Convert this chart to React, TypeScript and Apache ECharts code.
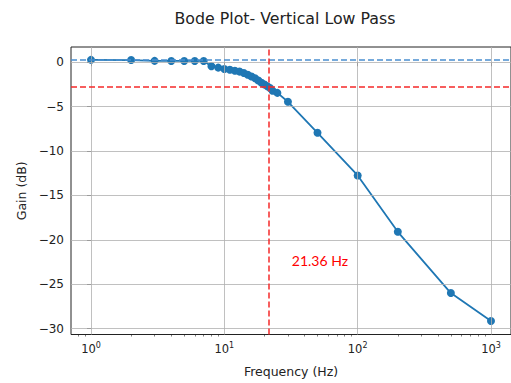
import React, { useEffect, useRef } from "react";
import * as echarts from "echarts";

const freqs = [1, 2, 3, 4, 5, 6, 7, 8, 9, 10, 11, 12, 13, 14, 15, 16, 17, 18, 19, 20, 21, 22, 23, 25, 30, 50, 100, 200, 500, 1000];
const gains = [0.27, 0.25, 0.16, 0.15, 0.15, 0.15, 0.15, -0.45, -0.6, -0.75, -0.85, -0.95, -1.05, -1.2, -1.4, -1.6, -1.8, -2.05, -2.3, -2.5, -2.7, -2.9, -3.2, -3.45, -4.45, -7.95, -12.75, -19.1, -26.0, -29.15];
const maxGain = 0.27;
const cutoffHz = 21.36;
const cutoffLabel = "21.36 Hz";
const xMajorExps = [0, 1, 2, 3];
const yTicks = [-30, -25, -20, -15, -10, -5, 0];
const minorMultipliers = [2, 3, 4, 5, 6, 7, 8, 9];

const FONT = "DejaVu Sans";

export default function App() {
  const ref = useRef<HTMLDivElement>(null);
  useEffect(() => {
    if (!ref.current) return;
    const chart = echarts.init(ref.current, null, { renderer: "svg" });
    const xMin = -0.15;
    const xMax = 3.15;
    const yMin = -30.67;
    const yMax = 1.72;
    const minorTicks: number[] = [];
    for (let e = -1; e <= 3; e++) {
      for (const m of minorMultipliers) {
        const v = Math.log10(m * Math.pow(10, e));
        if (v > xMin && v < xMax) minorTicks.push(v);
      }
    }
    const data = freqs.map((f, i) => [Math.log10(f), gains[i]]);
    const gridLine = { color: "#b0b0b0", width: 0.8, type: "solid" as const };
    chart.setOption({
      animation: false,
      grid: {
        left: 71,
        top: 47,
        right: -3,
        bottom: 47,
        show: true,
        borderColor: "#222",
        borderWidth: 1,
        backgroundColor: "transparent",
      },
      xAxis: [
        {
          type: "value",
          min: xMin,
          max: xMax,
          position: "bottom",
          name: "Frequency (Hz)",
          nameLocation: "middle",
          nameGap: 30.5,
          nameTextStyle: { fontFamily: FONT, fontSize: 12.5, color: "#222" },
          axisLine: { show: false },
          splitLine: { show: false },
          axisTick: { show: true, customValues: xMajorExps, length: 4, lineStyle: { color: "#222", width: 0.8 } },
          axisLabel: {
            customValues: xMajorExps,
            margin: 7,
            formatter: (v: number) => `{b|10}{s|${Math.round(v)}}`,
            rich: {
              b: { fontFamily: FONT, fontSize: 11.5, color: "#222", verticalAlign: "bottom", lineHeight: 13 },
              s: { fontFamily: FONT, fontSize: 8, color: "#222", verticalAlign: "top", lineHeight: 9, padding: [0, 0, 6, 0] },
            },
          },
        },
        {
          type: "value",
          min: xMin,
          max: xMax,
          position: "bottom",
          axisLine: { show: false },
          splitLine: { show: false },
          axisLabel: { show: false },
          axisTick: { show: true, customValues: minorTicks, length: 2, lineStyle: { color: "#222", width: 0.6 } },
        },
      ],
      yAxis: {
        type: "value",
        min: yMin,
        max: yMax,
        name: "Gain (dB)",
        nameLocation: "middle",
        nameGap: 43.5,
        nameTextStyle: { fontFamily: FONT, fontSize: 12.5, color: "#222" },
        axisLine: { show: false },
        splitLine: { show: false },
        axisTick: { show: true, customValues: yTicks, length: 4, lineStyle: { color: "#222", width: 0.8 } },
        axisLabel: {
          customValues: yTicks,
          margin: 7,
          fontFamily: FONT,
          fontSize: 12,
          color: "#222",
          formatter: (v: number) => (v < 0 ? "\u2212" + Math.abs(Math.round(v)) : String(Math.round(v))),
        },
      },
      series: [
        {
          type: "line",
          data: [],
          z: 0,
          silent: true,
          markLine: {
            silent: true,
            symbol: "none",
            label: { show: false },
            lineStyle: gridLine,
            data: [
              ...xMajorExps.map((e) => ({ xAxis: e })),
              ...yTicks.map((t) => ({ yAxis: t })),
            ],
          },
        },
        {
          type: "line",
          data,
          z: 2,
          color: "#1f77b4",
          lineStyle: { color: "#1f77b4", width: 1.8 },
          itemStyle: { color: "#1f77b4" },
          symbol: "circle",
          symbolSize: 8,
          showSymbol: true,
        },
        {
          type: "line",
          data: [],
          z: 3,
          silent: true,
          markLine: {
            silent: true,
            symbol: "none",
            label: { show: false },
            data: [
              { yAxis: maxGain, lineStyle: { color: "#4a8fd0", width: 1.5, type: [6, 3] } },
              { yAxis: maxGain - 3, lineStyle: { color: "#f52a2a", width: 1.5, type: [6, 3] } },
              { xAxis: Math.log10(cutoffHz), lineStyle: { color: "#f52a2a", width: 1.5, type: [6, 3] } },
            ],
          },
        },
      ],
    });
    const p = chart.convertToPixel({ gridIndex: 0 }, [Math.log10(cutoffHz * 1.5), -23]) as number[];
    chart.setOption({
      graphic: [
        {
          type: "text",
          x: 285,
          y: 18,
          style: {
            text: "Bode Plot- Vertical Low Pass",
            fontFamily: FONT,
            fontSize: 15.8,
            fill: "#222",
            textAlign: "center",
            textVerticalAlign: "middle",
          },
        },
        {
          type: "text",
          x: p[0],
          y: p[1] + 1,
          style: {
            text: cutoffLabel,
            fontFamily: "Lato",
            fontSize: 14,
            fill: "#ff0000",
            textAlign: "left",
            textVerticalAlign: "bottom",
          },
        },
      ],
    });
    return () => chart.dispose();
  }, []);
  return <div ref={ref} style={{ width: 511, height: 383, position: "absolute", left: 0, top: 0 }} />;
}
